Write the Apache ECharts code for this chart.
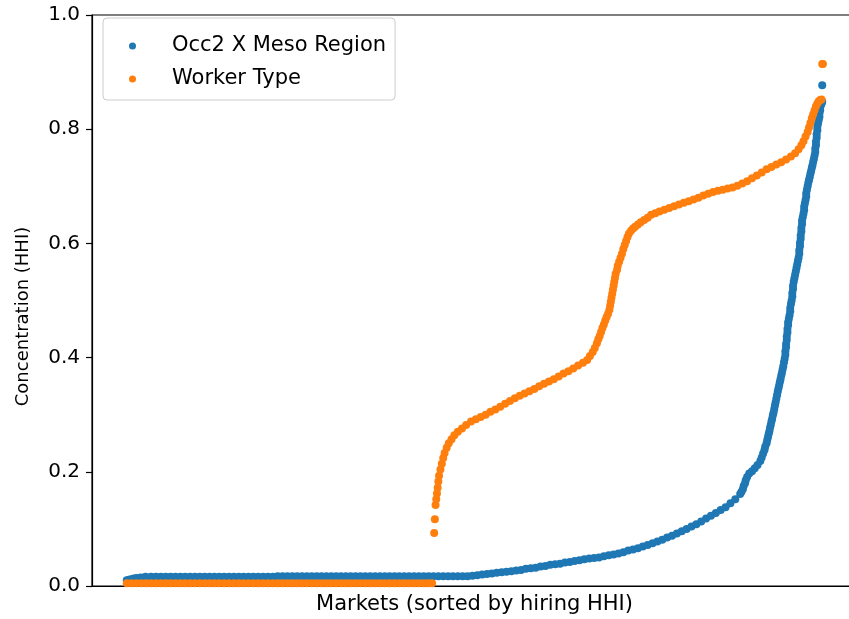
<!DOCTYPE html>
<html>
<head>
<meta charset="utf-8">
<script src="https://cdn.jsdelivr.net/npm/echarts@6/dist/echarts.min.js"></script>
<style>
  html, body { margin: 0; padding: 0; background: #fff; }
  #chart { width: 849px; height: 619px; }
</style>
</head>
<body>
<div id="chart"></div>
<script>
// markets ranked by hiring HHI (0..1000), value = concentration
const occ2Points = [
  [0, 0.010], [3, 0.011], [6, 0.012], [10, 0.013], [14, 0.014], [20, 0.015], [27, 0.016],
  [35, 0.016], [42, 0.016], [49, 0.016], [56, 0.016], [63, 0.016], [70, 0.016], [77, 0.016],
  [84, 0.016], [91, 0.016], [98, 0.016], [105, 0.016], [112, 0.016], [119, 0.016], [126, 0.016],
  [133, 0.016], [140, 0.016], [147, 0.016], [154, 0.016], [161, 0.016], [168, 0.016], [175, 0.016],
  [182, 0.016], [189, 0.016], [196, 0.016], [203, 0.016], [210, 0.016],
  [217, 0.017], [224, 0.017], [231, 0.017], [238, 0.017], [245, 0.017], [252, 0.017], [259, 0.017],
  [266, 0.017], [273, 0.017], [280, 0.017], [287, 0.017], [294, 0.017], [301, 0.017], [308, 0.017],
  [315, 0.017], [322, 0.017], [329, 0.017], [336, 0.017], [343, 0.017], [350, 0.017], [357, 0.017],
  [364, 0.017], [371, 0.017], [378, 0.017], [385, 0.017], [392, 0.017], [399, 0.017], [406, 0.017],
  [413, 0.017], [420, 0.017], [427, 0.017], [434, 0.017], [441, 0.017], [448, 0.017], [455, 0.017],
  [462, 0.017], [469, 0.017], [476, 0.017], [483, 0.017], [490, 0.017],
  [497, 0.018], [504, 0.019], [511, 0.020], [518, 0.021], [525, 0.022], [532, 0.023], [539, 0.024],
  [546, 0.025], [553, 0.026], [560, 0.027], [567, 0.028], [574, 0.030], [581, 0.031], [588, 0.032],
  [595, 0.034], [602, 0.035], [609, 0.037], [616, 0.038], [623, 0.039], [630, 0.041], [637, 0.042],
  [644, 0.044], [651, 0.045], [658, 0.047], [665, 0.048], [672, 0.049], [679, 0.050], [686, 0.052],
  [693, 0.054], [700, 0.055], [707, 0.057], [714, 0.059], [721, 0.062], [728, 0.064], [735, 0.066],
  [742, 0.069], [749, 0.072], [756, 0.075], [763, 0.078], [770, 0.081], [777, 0.085], [784, 0.088],
  [791, 0.092], [798, 0.096], [805, 0.100], [812, 0.104], [819, 0.108], [826, 0.113], [833, 0.118],
  [840, 0.123], [847, 0.128], [854, 0.133], [861, 0.138], [868, 0.145], [875, 0.152], [882, 0.161],
  [884, 0.165], [886, 0.170], [887, 0.175], [889, 0.180], [890, 0.185], [892, 0.191], [895, 0.197],
  [899, 0.201], [903, 0.206], [907, 0.212], [911, 0.219], [913, 0.225], [915, 0.232], [917, 0.238],
  [918, 0.244], [920, 0.250], [921, 0.256], [922, 0.261], [923, 0.266], [924, 0.271], [925, 0.277],
  [926, 0.282], [927, 0.288], [928, 0.293], [929, 0.299], [930, 0.304], [931, 0.310], [932, 0.316],
  [933, 0.322], [934, 0.328], [935, 0.334], [936, 0.340], [937, 0.346], [938, 0.351], [939, 0.357],
  [940, 0.362], [941, 0.368], [942, 0.373], [943, 0.379], [944, 0.385], [945, 0.392], [946, 0.398],
  [947, 0.405], [947, 0.411], [948, 0.418], [948, 0.424], [949, 0.431], [949, 0.437], [950, 0.444],
  [950, 0.450], [951, 0.457], [951, 0.462], [952, 0.468], [953, 0.474], [954, 0.481], [954, 0.487],
  [955, 0.494], [956, 0.500], [957, 0.507], [957, 0.513], [958, 0.520], [958, 0.526], [959, 0.533],
  [960, 0.539], [961, 0.545], [962, 0.551], [963, 0.557], [964, 0.563], [965, 0.569], [966, 0.575],
  [967, 0.582], [967, 0.588], [968, 0.595], [968, 0.601], [969, 0.608], [969, 0.614], [970, 0.621],
  [970, 0.627], [971, 0.634], [971, 0.640], [972, 0.646], [973, 0.652], [974, 0.658], [974, 0.664],
  [975, 0.670], [976, 0.676], [977, 0.682], [977, 0.688], [978, 0.694], [979, 0.700], [980, 0.706],
  [981, 0.711], [982, 0.716], [983, 0.722], [984, 0.727], [985, 0.732], [986, 0.737], [987, 0.743],
  [988, 0.748], [989, 0.754], [990, 0.760], [990, 0.766], [991, 0.772], [991, 0.778], [992, 0.785],
  [992, 0.791], [993, 0.798], [993, 0.804], [994, 0.810], [995, 0.816], [996, 0.822], [996, 0.828],
  [997, 0.833], [997, 0.838], [998, 0.842], [999, 0.845], [1000, 0.848], [1000, 0.877]
]

const workerPoints = [
  [0, 0.005], [7, 0.005], [14, 0.005], [21, 0.005], [28, 0.005], [35, 0.005], [42, 0.005],
  [49, 0.005], [56, 0.005], [63, 0.005], [70, 0.005], [77, 0.005], [84, 0.005], [91, 0.005],
  [98, 0.005], [105, 0.005], [112, 0.005], [119, 0.005], [126, 0.005], [133, 0.005], [140, 0.005],
  [147, 0.005], [154, 0.005], [161, 0.005], [168, 0.005], [175, 0.005], [182, 0.005], [189, 0.005],
  [196, 0.005], [203, 0.005], [210, 0.005], [217, 0.005], [224, 0.005], [231, 0.005], [238, 0.005],
  [245, 0.005], [252, 0.005], [259, 0.005], [266, 0.005], [273, 0.005], [280, 0.005], [287, 0.005],
  [294, 0.005], [301, 0.005], [308, 0.005], [315, 0.005], [322, 0.005], [329, 0.005], [336, 0.005],
  [343, 0.005], [350, 0.005], [357, 0.005], [364, 0.005], [371, 0.005], [378, 0.005], [385, 0.005],
  [392, 0.005], [399, 0.005], [406, 0.005], [413, 0.005], [420, 0.005], [427, 0.005], [434, 0.005],
  [439, 0.005],
  [442, 0.093], [443, 0.117], [444, 0.142], [445, 0.152], [446, 0.162], [447, 0.172], [448, 0.183],
  [449, 0.193], [451, 0.204], [453, 0.214], [455, 0.224], [457, 0.233], [460, 0.242], [463, 0.250],
  [467, 0.257], [471, 0.264], [476, 0.270], [482, 0.276], [488, 0.282], [495, 0.288], [502, 0.292],
  [509, 0.296], [516, 0.300], [523, 0.305], [530, 0.309], [537, 0.314], [544, 0.319], [551, 0.324],
  [558, 0.329], [565, 0.333], [572, 0.337], [579, 0.341], [586, 0.345], [593, 0.350], [600, 0.354],
  [607, 0.358], [614, 0.362], [621, 0.367], [628, 0.372], [635, 0.376], [642, 0.381], [649, 0.386],
  [656, 0.391], [662, 0.396], [666, 0.403], [670, 0.410], [673, 0.417], [676, 0.425], [678, 0.432],
  [680, 0.438], [682, 0.445], [684, 0.452], [686, 0.458], [688, 0.465], [690, 0.471], [692, 0.477],
  [694, 0.484], [695, 0.491], [696, 0.498], [697, 0.505], [698, 0.512], [699, 0.519], [700, 0.526],
  [701, 0.533], [702, 0.540], [703, 0.547], [705, 0.554], [706, 0.561], [708, 0.568], [710, 0.575],
  [712, 0.582], [714, 0.590], [716, 0.597], [718, 0.604], [720, 0.611], [722, 0.617], [725, 0.622],
  [728, 0.626], [731, 0.629], [735, 0.633], [739, 0.637], [744, 0.641], [749, 0.645], [754, 0.650],
  [760, 0.653], [766, 0.656], [773, 0.659], [780, 0.662], [787, 0.665], [794, 0.668], [801, 0.671],
  [808, 0.674], [815, 0.677], [822, 0.680], [829, 0.684], [836, 0.687], [843, 0.690], [850, 0.692],
  [857, 0.694], [864, 0.696], [871, 0.698], [878, 0.701], [885, 0.705], [892, 0.709], [899, 0.714],
  [906, 0.719], [913, 0.724], [920, 0.730], [927, 0.734], [934, 0.738], [941, 0.742], [948, 0.747],
  [955, 0.752], [961, 0.758], [966, 0.765], [970, 0.772], [973, 0.779], [976, 0.787], [979, 0.795],
  [981, 0.803], [983, 0.811], [985, 0.819], [987, 0.826], [989, 0.833], [991, 0.840], [993, 0.845],
  [995, 0.849], [997, 0.851], [999, 0.852], [1000, 0.914], [1001, 0.914]
]

const seriesNames = ['Occ2 X Meso Region', 'Worker Type']
const seriesColors = ['#1f77b4', '#ff7f0e']

const font = 'DejaVu Sans'

const chart = echarts.init(document.getElementById('chart'), null, { renderer: 'canvas' })

const option = {
  animation: false,
  backgroundColor: '#fff',
  grid: {
    left: 92,
    top: 15,
    bottom: 33,
    right: -8,
    outerBoundsMode: 'none',
    containLabel: false,
    show: true,
    borderColor: '#000',
    borderWidth: 1.2,
    backgroundColor: 'transparent'
  },
  legend: {
    orient: 'vertical',
    left: 103,
    top: 18,
    padding: [16, 9, 9, 26],
    itemGap: 9,
    itemWidth: 7,
    itemHeight: 7,
    icon: 'circle',
    borderColor: '#cccccc',
    borderWidth: 1,
    borderRadius: 4,
    backgroundColor: 'rgba(255,255,255,0.8)',
    textStyle: {
      fontFamily: font,
      fontSize: 21,
      color: '#000',
      lineHeight: 24,
      padding: [0, 0, 0, 31]
    },
    data: seriesNames
  },
  xAxis: {
    type: 'value',
    min: -50,
    max: 1050,
    name: 'Markets (sorted by hiring HHI)',
    nameLocation: 'middle',
    nameGap: 8,
    nameTextStyle: { fontFamily: font, fontSize: 21, color: '#000', verticalAlign: 'top' },
    axisLine: { lineStyle: { color: '#000', width: 1.2 } },
    axisTick: { show: false },
    axisLabel: { show: false },
    splitLine: { show: false }
  },
  yAxis: {
    type: 'value',
    min: 0,
    max: 1,
    interval: 0.2,
    name: 'Concentration (HHI)',
    nameLocation: 'middle',
    nameGap: 60,
    nameTextStyle: { fontFamily: font, fontSize: 18, color: '#000', padding: [0, 32, 0, 0] },
    axisLine: { show: true, onZero: false, lineStyle: { color: '#000', width: 1.2 } },
    axisTick: { show: true, length: 6, lineStyle: { color: '#000', width: 1.2 } },
    axisLabel: {
      fontFamily: font,
      fontSize: 20,
      color: '#000',
      margin: 12,
      formatter: v => v.toFixed(1)
    },
    splitLine: { show: false }
  },
  series: [
    {
      name: seriesNames[0],
      type: 'scatter',
      symbolSize: 8,
      itemStyle: { color: seriesColors[0], opacity: 1 },
      data: occ2Points
    },
    {
      name: seriesNames[1],
      type: 'scatter',
      symbolSize: 8,
      itemStyle: { color: seriesColors[1], opacity: 1 },
      data: workerPoints
    }
  ]
}

chart.setOption(option)
</script>
</body>
</html>
